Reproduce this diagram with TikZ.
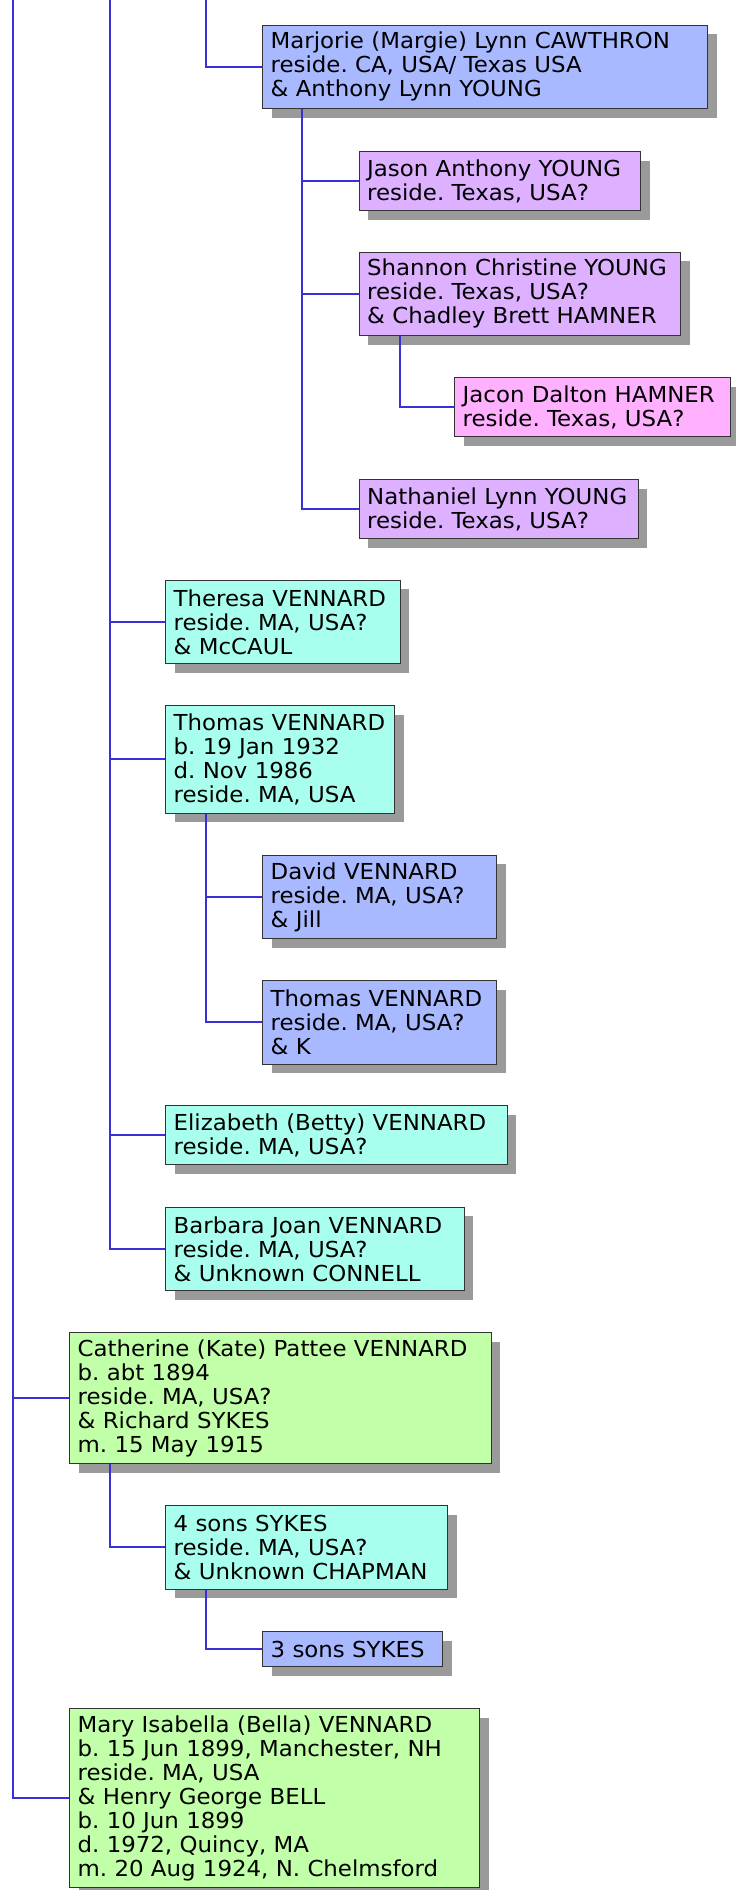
\documentclass[tikz,border=0pt]{standalone}
\usepackage{fontspec}
\usetikzlibrary{shadows}
\newfontfamily\genevafont[FakeStretch=1.04]{DejaVu Sans}
\newcommand\geneva{\genevafont\fontsize{22}{24}\selectfont\frenchspacing\hyphenpenalty=10000}
\definecolor{linkblue}{HTML}{3A30DA}
\definecolor{gen1}{HTML}{C1FFA9}
\definecolor{gen2}{HTML}{A9FFEE}
\definecolor{gen3}{HTML}{A9B9FF}
\definecolor{gen4}{HTML}{DDB1FF}
\definecolor{gen5}{HTML}{FFB1FF}
\definecolor{shadowgray}{HTML}{9A9A9A}
\tikzset{
  box/.style={draw=black!80, line width=1.3pt, inner xsep=8pt, inner ysep=0pt,
    anchor=north west, align=left, font=\geneva,
    drop shadow={shadow xshift=9pt, shadow yshift=-9pt, fill=shadowgray, opacity=1}},
  link/.style={draw=linkblue, line width=2pt}
}
\begin{document}
\begin{tikzpicture}[x=1pt,y=-1pt]
\useasboundingbox (0,0) rectangle (736,1890);
% lines coming in from above
\coordinate (top0) at (13,0);
\coordinate (top1) at (110,0);
\coordinate (top2) at (206,0);
% people
\node[box, fill=gen3, text width=429pt, minimum height=83.5pt] (marjorie) at (262,24.5)
  {Marjorie (Margie) Lynn CAWTHRON\\reside. CA, USA/ Texas USA\\\& Anthony Lynn YOUNG};
\node[box, fill=gen4, text width=265.5pt, minimum height=59pt] (jason) at (358.5,151)
  {Jason Anthony YOUNG\\reside. Texas, USA?};
\node[box, fill=gen4, text width=305.5pt, minimum height=83.5pt] (shannon) at (358.5,251.5)
  {Shannon Christine YOUNG\\reside. Texas, USA?\\\& Chadley Brett HAMNER};
\node[box, fill=gen5, text width=260pt, minimum height=59pt] (jacon) at (454,377)
  {Jacon Dalton HAMNER\\reside. Texas, USA?};
\node[box, fill=gen4, text width=263pt, minimum height=59pt] (nathaniel) at (358.5,479)
  {Nathaniel Lynn YOUNG\\reside. Texas, USA?};
\node[box, fill=gen2, text width=218.5pt, minimum height=83.5pt] (theresa) at (165,579.5)
  {Theresa VENNARD\\reside. MA, USA?\\\& McCAUL};
\node[box, fill=gen2, text width=213pt, minimum height=107.5pt] (thomas) at (165,705)
  {Thomas VENNARD\\b. 19 Jan 1932\\d. Nov 1986\\reside. MA, USA};
\node[box, fill=gen3, text width=218pt, minimum height=83.5pt] (david) at (262,854.5)
  {David VENNARD\\reside. MA, USA?\\\& Jill};
\node[box, fill=gen3, text width=218pt, minimum height=83.5pt] (thomasjr) at (262,980)
  {Thomas VENNARD\\reside. MA, USA?\\\& K};
\node[box, fill=gen2, text width=325.5pt, minimum height=59pt] (elizabeth) at (165,1105)
  {Elizabeth (Betty) VENNARD\\reside. MA, USA?};
\node[box, fill=gen2, text width=282.5pt, minimum height=83.5pt] (barbara) at (165,1206.5)
  {Barbara Joan VENNARD\\reside. MA, USA?\\\& Unknown CONNELL};
\node[box, fill=gen1, text width=405.5pt, minimum height=131pt] (catherine) at (69,1332)
  {Catherine (Kate) Pattee VENNARD\\b. abt 1894\\reside. MA, USA?\\\& Richard SYKES\\m. 15 May 1915};
\node[box, fill=gen2, text width=266pt, minimum height=83.5pt] (foursons) at (165,1505)
  {4 sons SYKES\\reside. MA, USA?\\\& Unknown CHAPMAN};
\node[box, fill=gen3, text width=164pt, minimum height=35pt] (threesons) at (262,1631)
  {3 sons SYKES};
\node[box, fill=gen1, text width=394pt, minimum height=179pt] (mary) at (69,1708)
  {Mary Isabella (Bella) VENNARD\\b. 15 Jun 1899, Manchester, NH\\reside. MA, USA\\\& Henry George BELL\\b. 10 Jun 1899\\d. 1972, Quincy, MA\\m. 20 Aug 1924, N. Chelmsford};
% where the children hang from
\coordinate (marjorie-c) at ([xshift=40pt]marjorie.south west);
\coordinate (shannon-c) at ([xshift=41pt]shannon.south west);
\coordinate (thomas-c) at ([xshift=41pt]thomas.south west);
\coordinate (catherine-c) at ([xshift=41pt]catherine.south west);
\coordinate (foursons-c) at ([xshift=41pt]foursons.south west);
% links
\path[link] (top2) |- (marjorie.west);
\path[link] (marjorie-c) |- (jason.west);
\path[link] (marjorie-c) |- (shannon.west);
\path[link] (marjorie-c) |- (nathaniel.west);
\path[link] (shannon-c) |- (jacon.west);
\path[link] (top1) |- (theresa.west);
\path[link] (top1) |- (thomas.west);
\path[link] (thomas-c) |- (david.west);
\path[link] (thomas-c) |- (thomasjr.west);
\path[link] (top1) |- (elizabeth.west);
\path[link] (top1) |- (barbara.west);
\path[link] (top0) |- (catherine.west);
\path[link] (catherine-c) |- (foursons.west);
\path[link] (foursons-c) |- (threesons.west);
\path[link] (top0) |- (mary.west);
\end{tikzpicture}
\end{document}
